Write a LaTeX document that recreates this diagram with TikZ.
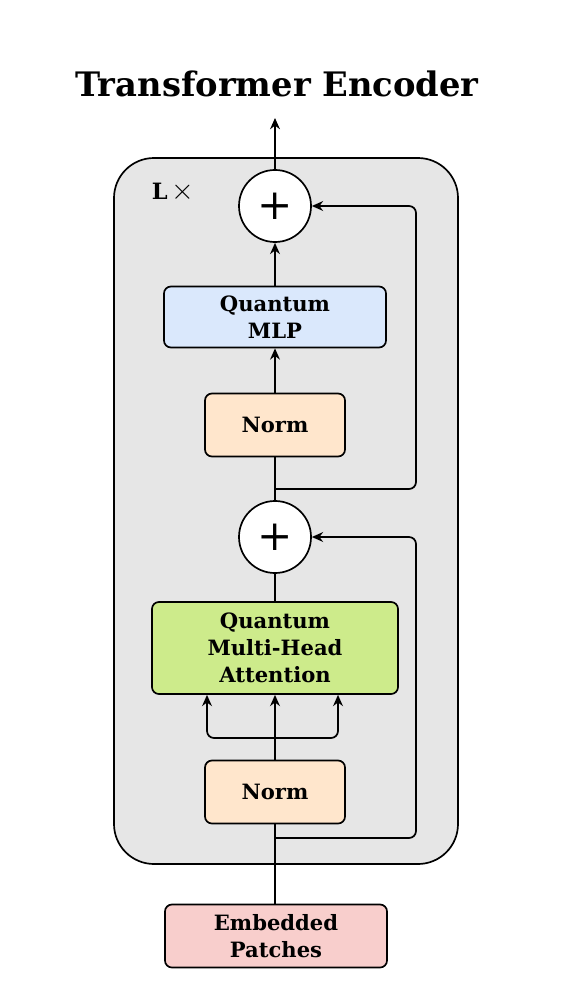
\documentclass[tikz,border=0pt]{standalone}
\usepackage{fontspec}
\setmainfont{DejaVu Serif}
\usetikzlibrary{calc,positioning,arrows.meta}
\definecolor{encgray}{HTML}{E6E6E6}
\definecolor{mlpblue}{HTML}{DAE8FC}
\definecolor{normorange}{HTML}{FFE6CC}
\definecolor{attgreen}{HTML}{CDEB8B}
\definecolor{embred}{HTML}{F8CECC}

\begin{document}
\begin{tikzpicture}
[x=0.025cm,y=-0.025cm,line width=1.2pt,
 every node/.style={align=center,inner sep=1pt,
	font=\bfseries\fontsize{15}{19}\selectfont},
 block/.style={draw,rounded corners=5pt,line width=1.2pt},
 addnode/.style={circle,draw,fill=white,line width=1.2pt,minimum size=1.8cm,
	font=\mdseries\fontsize{30}{30}\selectfont},
 tip/.style={-{Stealth[length=8pt,width=7pt]}}]
\useasboundingbox (0,0) rectangle (563,997);
%% outer encoder block
\draw[fill=encgray,rounded corners=1cm] (114,158) rectangle (458,864);
\node (title) at (277,84) {\fontsize{24}{28}\selectfont Transformer Encoder};
\node (rep) at (173,192) {\fontsize{16}{19}\selectfont L\,{\mdseries\fontsize{20}{20}\selectfont$\times$}};
%%
\node[addnode] (addtop) at (275,206) {+};
\node[block,fill=mlpblue,minimum width=5.55cm,minimum height=1.525cm] (mlp) at (275,317) {Quantum\\MLP};
\node[block,fill=normorange,minimum width=3.5cm,minimum height=1.575cm] (normtop) at (275,425) {Norm};
\node[addnode] (addmid) at (275,537) {+};
\node[block,fill=attgreen,minimum width=6.15cm,minimum height=2.3cm] (att) at (275,648) {Quantum\\Multi-Head\\Attention};
\node[block,fill=normorange,minimum width=3.5cm,minimum height=1.575cm] (normbot) at (275,792) {Norm};
\node[block,fill=embred,minimum width=5.55cm,minimum height=1.575cm] (emb) at (276,936) {Embedded\\Patches};
%%
\coordinate (out) at (275,118);
\coordinate (res1) at (275,489);
\coordinate (res2) at (275,838);
\coordinate (split) at (275,738);
\path
\foreach \startNode/\endNode in {att/addmid,addmid/normtop}
{
	(\startNode) edge[-] (\endNode)
};
\path
\foreach \startNode/\endNode in {normbot/att,normtop/mlp,mlp/addtop,addtop/out}
{
	(\startNode) edge[tip] (\endNode)
};
\draw (emb.north -| normbot.south) -- (normbot.south);
\draw[tip,rounded corners=5pt] (res1) -- (416,489) -- (416,206) -- (addtop.east);
\draw[tip,rounded corners=5pt] (res2) -- (416,838) -- (416,537) -- (addmid.east);
\draw[tip,rounded corners=5pt] (split) -| ($(att.south)+(-68,0)$);
\draw[tip,rounded corners=5pt] (split) -| ($(att.south)+(63,0)$);
\end{tikzpicture}
\end{document}
